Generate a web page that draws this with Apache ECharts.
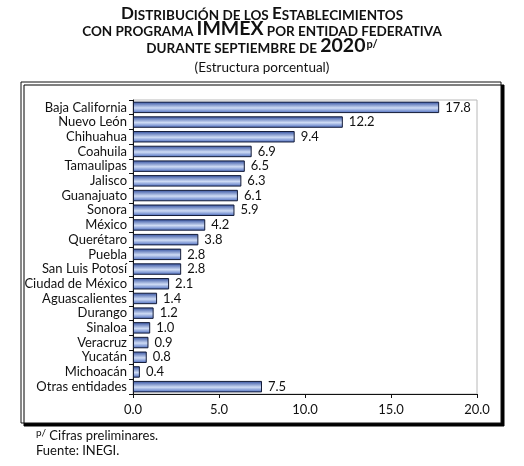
<!DOCTYPE html>
<html>
<head>
<meta charset="utf-8">
<script src="https://cdn.jsdelivr.net/npm/echarts@6/dist/echarts.min.js"></script>
<style>
  html, body { margin: 0; padding: 0; background: #fff; }
  #chart { width: 524px; height: 466px; }
</style>
</head>
<body>
<div id="chart"></div>
<script>
// Estados y participación porcentual
var states = ['Baja California', 'Nuevo León', 'Chihuahua', 'Coahuila', 'Tamaulipas',
  'Jalisco', 'Guanajuato', 'Sonora', 'México', 'Querétaro', 'Puebla', 'San Luis Potosí',
  'Ciudad de México', 'Aguascalientes', 'Durango', 'Sinaloa', 'Veracruz', 'Yucatán',
  'Michoacán', 'Otras entidades'];
var shares = [17.8, 12.2, 9.4, 6.9, 6.5, 6.3, 6.1, 5.9, 4.2, 3.8, 2.8, 2.8, 2.1, 1.4, 1.2,
  1.0, 0.9, 0.8, 0.4, 7.5];
var xTicks = [0, 5, 10, 15, 20];

var font = 'Lato, "Open Sans", sans-serif';
var myChart = echarts.init(document.getElementById('chart'));

var option = {
  backgroundColor: '#fff',
  animation: false,
  title: [{
    left: 'center',
    top: 1,
    text: '{b|D}{s|ISTRIBUCIÓN DE LOS }{b|E}{s|STABLECIMIENTOS}\n' +
          '{s|CON PROGRAMA }{i|IMMEX}{s| POR ENTIDAD FEDERATIVA}\n' +
          '{s|DURANTE SEPTIEMBRE DE }{i|2020}{sup|p/}',
    textStyle: {
      fontFamily: font,
      fontWeight: 'bold',
      color: '#111',
      lineHeight: 16.5,
      rich: {
        b: { fontFamily: font, fontWeight: 'bold', fontSize: 17, color: '#111', verticalAlign: 'bottom', lineHeight: 16.5 },
        s: { fontFamily: font, fontWeight: 'bold', fontSize: 13.5, color: '#111', verticalAlign: 'bottom', lineHeight: 16.5 },
        i: { fontFamily: font, fontWeight: 'bold', fontSize: 19.5, color: '#111', verticalAlign: 'bottom', lineHeight: 16.5 },
        sup: { fontFamily: font, fontWeight: 'bold', fontSize: 11, color: '#111', verticalAlign: 'top', lineHeight: 16.5, padding: [0, 0, 0, 1] }
      }
    }
  }, {
    left: 'center',
    top: 56,
    text: '(Estructura porcentual)',
    textStyle: { fontFamily: font, fontWeight: 'normal', fontSize: 13.5, color: '#111' }
  }],
  graphic: [
    {
      type: 'rect',
      z: -10,
      shape: { x: 21, y: 82, width: 480, height: 341 },
      style: { fill: '#fff', stroke: '#111', lineWidth: 1,
        shadowColor: '#000', shadowOffsetX: 3, shadowOffsetY: 3, shadowBlur: 0 }
    },
    {
      type: 'text',
      left: 36, top: 428,
      style: { text: '{sup|p/} Cifras preliminares.\nFuente: INEGI.', fontFamily: font, fontSize: 13, fill: '#111', lineHeight: 15,
        rich: { sup: { fontFamily: font, fontSize: 10, fill: '#111', verticalAlign: 'top', lineHeight: 15 } } }
    }
  ],
  grid: {
    left: 133, right: 47, top: 100, bottom: 72,
    show: true, borderColor: '#b8b8b8', borderWidth: 1, backgroundColor: 'transparent'
  },
  xAxis: {
    type: 'value',
    min: xTicks[0],
    max: xTicks[xTicks.length - 1],
    interval: 5,
    axisLine: { show: true, lineStyle: { color: '#111', width: 1 } },
    axisTick: { show: true, length: 4, lineStyle: { color: '#111' } },
    splitLine: { show: false },
    axisLabel: { fontFamily: font, fontSize: 13, color: '#111', margin: 9,
      formatter: function (v) { return v.toFixed(1); } }
  },
  yAxis: {
    type: 'category',
    inverse: true,
    data: states,
    axisLine: { show: true, lineStyle: { color: '#111', width: 1 } },
    axisTick: { show: true, length: 4, lineStyle: { color: '#111' } },
    axisLabel: { fontFamily: font, fontSize: 13, color: '#111', margin: 6, interval: 0 }
  },
  series: [{
    type: 'bar',
    data: shares,
    barCategoryGap: '22%',
    itemStyle: {
      borderColor: '#141c38',
      borderWidth: 1,
      color: new echarts.graphic.LinearGradient(0, 0, 0, 1, [
        { offset: 0, color: '#2e4c9e' },
        { offset: 0.55, color: '#cfdcf5' },
        { offset: 1, color: '#4768bd' }
      ])
    },
    label: {
      show: true,
      position: 'right',
      distance: 6,
      fontFamily: font,
      fontSize: 13,
      color: '#111',
      formatter: function (p) { return p.value.toFixed(1); }
    }
  }]
};

myChart.setOption(option);
</script>
</body>
</html>
